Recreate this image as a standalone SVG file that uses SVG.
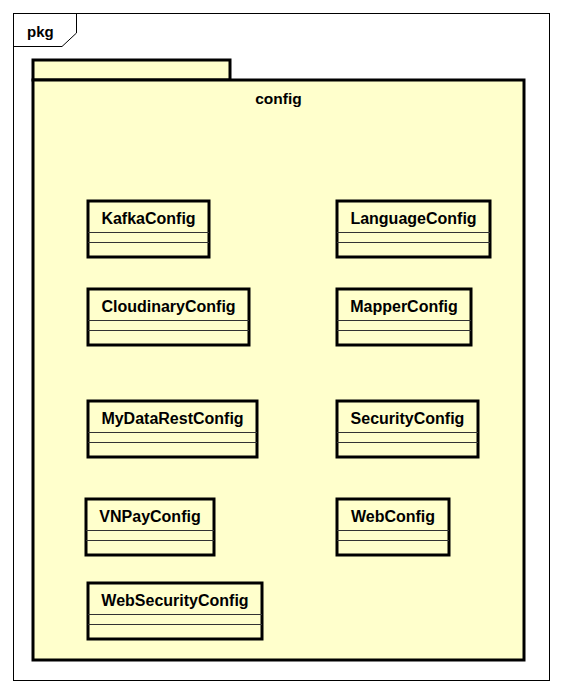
<svg xmlns="http://www.w3.org/2000/svg" width="562" height="693" viewBox="0 0 562 693">
<style>
.frame{fill:#fff;stroke:#000;stroke-width:1}
.pkg{fill:#FFFFCC;stroke:#000;stroke-width:3}
.cls{fill:#FFFFCC;stroke:#000;stroke-width:3}
.sep{stroke:#333;stroke-width:1}
.t{font-family:"Liberation Sans",Arial,sans-serif;font-weight:bold;fill:#000}
.name{font-size:16px;text-anchor:middle}
</style>
<rect width="562" height="693" fill="#fff"/>
<g id="frame">
<rect class="frame" x="13.5" y="13.5" width="536" height="667"/>
<path d="M13.5 46.5 H62 L76.5 33 V13.5" fill="none" stroke="#000" stroke-width="1"/>
<text class="t" x="27" y="36.5" font-size="15">pkg</text>
</g>
<g id="config">
<rect class="pkg" x="33" y="60" width="197" height="20"/>
<rect class="pkg" x="33" y="80" width="491" height="580"/>
<text class="t" x="278.5" y="104" font-size="15.5" text-anchor="middle">config</text>
</g>
<g id="KafkaConfig">
<rect class="cls" x="88" y="201" width="121" height="56"/>
<line class="sep" x1="88" y1="232.5" x2="209" y2="232.5"/>
<line class="sep" x1="88" y1="242.5" x2="209" y2="242.5"/>
<text class="t name" x="148.5" y="224">KafkaConfig</text>
</g>
<g id="LanguageConfig">
<rect class="cls" x="337" y="201" width="153" height="56"/>
<line class="sep" x1="337" y1="232.5" x2="490" y2="232.5"/>
<line class="sep" x1="337" y1="242.5" x2="490" y2="242.5"/>
<text class="t name" x="413.5" y="224">LanguageConfig</text>
</g>
<g id="CloudinaryConfig">
<rect class="cls" x="88" y="289" width="161" height="56"/>
<line class="sep" x1="88" y1="320.5" x2="249" y2="320.5"/>
<line class="sep" x1="88" y1="330.5" x2="249" y2="330.5"/>
<text class="t name" x="168.5" y="312">CloudinaryConfig</text>
</g>
<g id="MapperConfig">
<rect class="cls" x="337" y="289" width="134" height="56"/>
<line class="sep" x1="337" y1="320.5" x2="471" y2="320.5"/>
<line class="sep" x1="337" y1="330.5" x2="471" y2="330.5"/>
<text class="t name" x="404" y="312">MapperConfig</text>
</g>
<g id="MyDataRestConfig">
<rect class="cls" x="88" y="401" width="169" height="56"/>
<line class="sep" x1="88" y1="432.5" x2="257" y2="432.5"/>
<line class="sep" x1="88" y1="442.5" x2="257" y2="442.5"/>
<text class="t name" x="172.5" y="424">MyDataRestConfig</text>
</g>
<g id="SecurityConfig">
<rect class="cls" x="337" y="401" width="141" height="56"/>
<line class="sep" x1="337" y1="432.5" x2="478" y2="432.5"/>
<line class="sep" x1="337" y1="442.5" x2="478" y2="442.5"/>
<text class="t name" x="407.5" y="424">SecurityConfig</text>
</g>
<g id="VNPayConfig">
<rect class="cls" x="86" y="499" width="128" height="56"/>
<line class="sep" x1="86" y1="530.5" x2="214" y2="530.5"/>
<line class="sep" x1="86" y1="540.5" x2="214" y2="540.5"/>
<text class="t name" x="150" y="522">VNPayConfig</text>
</g>
<g id="WebConfig">
<rect class="cls" x="337" y="499" width="112" height="56"/>
<line class="sep" x1="337" y1="530.5" x2="449" y2="530.5"/>
<line class="sep" x1="337" y1="540.5" x2="449" y2="540.5"/>
<text class="t name" x="393" y="522">WebConfig</text>
</g>
<g id="WebSecurityConfig">
<rect class="cls" x="88" y="583" width="174" height="56"/>
<line class="sep" x1="88" y1="614.5" x2="262" y2="614.5"/>
<line class="sep" x1="88" y1="624.5" x2="262" y2="624.5"/>
<text class="t name" x="175" y="606">WebSecurityConfig</text>
</g>
<g id="connectors"></g>
</svg>
